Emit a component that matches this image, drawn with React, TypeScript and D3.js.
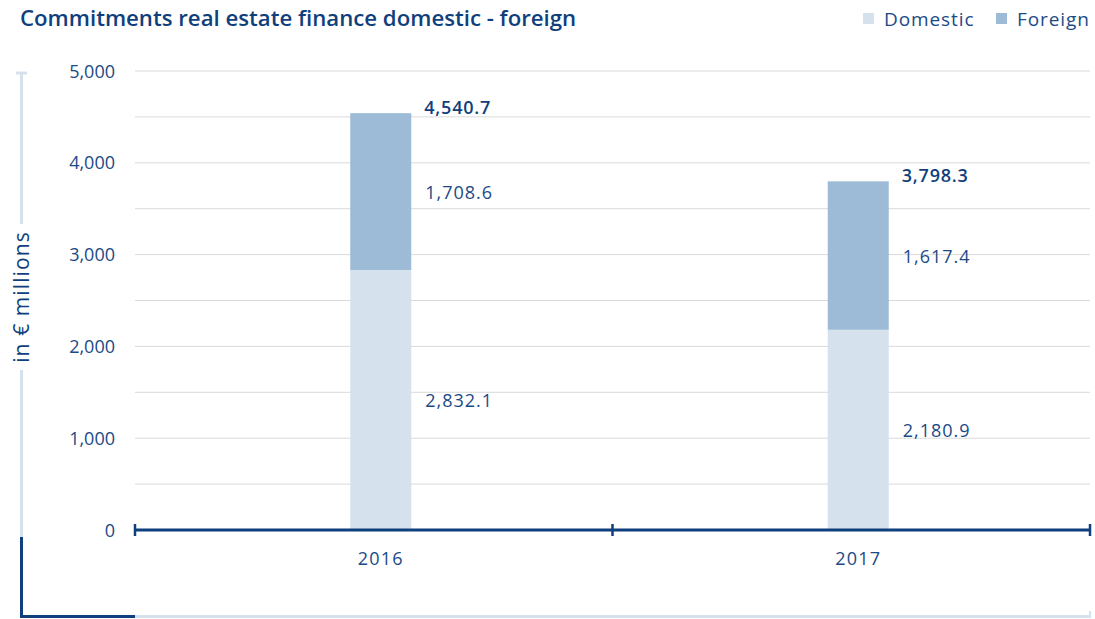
import React from "react";
import * as d3 from "d3";

const categories = ["2016", "2017"];
const domestic = [2832.1, 2180.9];
const foreign = [1708.6, 1617.4];
const totals = [4540.7, 3798.3];
const yTicks = [0, 1000, 2000, 3000, 4000, 5000];
const gridValues = [500, 1000, 1500, 2000, 2500, 3000, 3500, 4000, 4500, 5000];

const DARK = "#0f3f7c";
const TEXT = "#1b4a86";
const LIGHT = "#d5e2ee";
const MID = "#9dbbd6";
const FONT = "'Open Sans', 'Noto Sans', sans-serif";

export default function App() {
  const W = 1095, H = 619;
  const left = 135, right = 1090, top = 71, bottom = 530;
  const x = d3.scaleBand<string>().domain(categories).range([left, right]).paddingInner(0).paddingOuter(0);
  const y = d3.scaleLinear().domain([0, 5000]).range([bottom, top]);
  const barW = 61;
  const shift = 7;
  const fmt = d3.format(",.1f");
  const fmtTick = d3.format(",");

  return (
    <svg width={W} height={H} style={{ position: "absolute", left: 0, top: 0, fontFamily: FONT }}>
      <rect width={W} height={H} fill="#fff" />
      {/* title */}
      <text x={20} y={26} fontSize={22.2} fill={DARK} fontWeight={600}>
        Commitments real estate finance domestic - foreign
      </text>
      {/* legend */}
      <rect x={863} y={13} width={11} height={11} fill={LIGHT} />
      <text x={884} y={26} fontSize={19} fill={TEXT} letterSpacing={0.9}>Domestic</text>
      <rect x={996} y={13} width={11} height={11} fill={MID} />
      <text x={1017} y={26} fontSize={19} fill={TEXT} letterSpacing={0.9}>Foreign</text>

      {/* grid */}
      {gridValues.map((v) => (
        <line key={v} x1={left} x2={right} y1={y(v)} y2={y(v)} stroke="#dadada" strokeWidth={1} />
      ))}
      {/* y tick labels */}
      {yTicks.map((v) => (
        <text key={v} x={115} y={y(v) + 6.5} textAnchor="end" fontSize={18} fill={TEXT}>
          {fmtTick(v)}
        </text>
      ))}

      {/* bars */}
      {categories.map((c, i) => {
        const cx = (x(c) as number) + x.bandwidth() / 2 + shift;
        const x0 = cx - barW / 2;
        return (
          <g key={c}>
            <rect x={x0} y={y(domestic[i])} width={barW} height={y(0) - y(domestic[i])} fill={LIGHT} />
            <rect x={x0} y={y(domestic[i] + foreign[i])} width={barW} height={y(domestic[i]) - y(domestic[i] + foreign[i])} fill={MID} />
            <text x={x0 + barW + 13} y={y(totals[i]) + 1} fontSize={18} fontWeight={600} fill={DARK} letterSpacing={0.8}>{fmt(totals[i])}</text>
            <text x={x0 + barW + 14} y={(y(domestic[i]) + y(domestic[i] + foreign[i])) / 2 + 7} fontSize={18} fill={TEXT} letterSpacing={1}>{fmt(foreign[i])}</text>
            <text x={x0 + barW + 14} y={(y(0) + y(domestic[i])) / 2 + 7} fontSize={18} fill={TEXT} letterSpacing={1}>{fmt(domestic[i])}</text>
            <text x={cx} y={565} textAnchor="middle" fontSize={18} fill={TEXT} letterSpacing={1.2}>{c}</text>
          </g>
        );
      })}

      {/* x axis */}
      <line x1={left} x2={right} y1={bottom} y2={bottom} stroke={DARK} strokeWidth={3} />
      {[left, left + x.step(), right].map((t, i) => (
        <line key={i} x1={t} x2={t} y1={bottom - 6} y2={bottom + 6} stroke={DARK} strokeWidth={2.5} />
      ))}

      {/* decorative frame */}
      <line x1={16} x2={27} y1={73} y2={73} stroke={LIGHT} strokeWidth={3} />
      <line x1={21.5} x2={21.5} y1={73} y2={537} stroke={LIGHT} strokeWidth={3} />
      <line x1={21.5} x2={21.5} y1={537} y2={617} stroke={DARK} strokeWidth={3} />
      <line x1={20} x2={135} y1={616.5} y2={616.5} stroke={DARK} strokeWidth={3} />
      <line x1={135} x2={1091} y1={616.5} y2={616.5} stroke={LIGHT} strokeWidth={3} />
      <line x1={1090} x2={1090} y1={611} y2={617} stroke={LIGHT} strokeWidth={2} />

      {/* y axis title */}
      <rect x={10} y={224} width={24} height={146} fill="#fff" />
      <text transform={`translate(29, 297) rotate(-90)`} textAnchor="middle" fontSize={21} fill={DARK} letterSpacing={1.1}>
        in € millions
      </text>
    </svg>
  );
}
